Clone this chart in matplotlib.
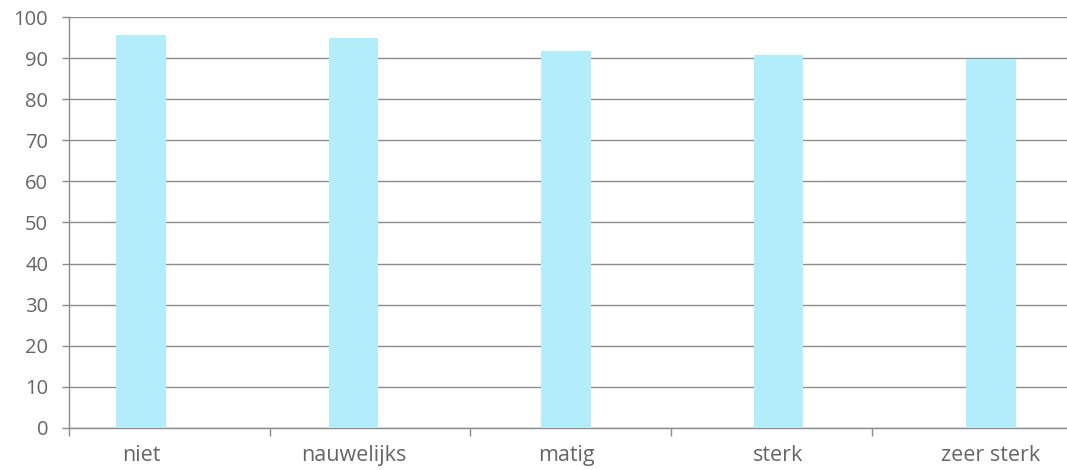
#!/usr/bin/env python3
"""Bar chart: share per category (niet .. zeer sterk)."""

import matplotlib

matplotlib.use("Agg")
import matplotlib.pyplot as plt
from matplotlib.ticker import FixedLocator

CATEGORIES = ["niet", "nauwelijks", "matig", "sterk", "zeer sterk"]
VALUES = [95.6, 94.9, 91.7, 90.8, 89.8]
Y_TICKS = [0, 10, 20, 30, 40, 50, 60, 70, 80, 90, 100]

BAR_COLOR = "#b3ecfa"
LINE_COLOR = "#8c8c8c"
TEXT_COLOR = "#666666"

plt.rcParams["font.family"] = ["Open Sans", "DejaVu Sans"]

fig = plt.figure(figsize=(10.67, 4.70), dpi=100)
ax = fig.add_axes([0.0647, 0.0894, 0.9353, 0.8744])

x = list(range(len(CATEGORIES)))
ax.bar(x, VALUES, width=0.235, color=BAR_COLOR, zorder=3)

# the original's category ticks don't line up exactly with the bars
x_left, x_right = -0.339, 4.358
tick_step = 0.9445
ax.set_xlim(x_left, x_right)
ax.set_ylim(0, 100)

ax.set_yticks(Y_TICKS)
ax.set_yticklabels([str(v) for v in Y_TICKS])
ax.yaxis.grid(True, color=LINE_COLOR, linewidth=1.0, zorder=1)

ax.xaxis.set_major_locator(FixedLocator([x_left + tick_step * k for k in range(len(CATEGORIES))]))
ax.xaxis.set_major_formatter(plt.NullFormatter())
ax.xaxis.set_minor_locator(FixedLocator(x))
ax.set_xticklabels(CATEGORIES, minor=True)

ax.tick_params(axis="y", length=5, width=1, color=LINE_COLOR, pad=10,
               labelsize=14.5, labelcolor=TEXT_COLOR)
ax.tick_params(axis="x", which="major", length=6, width=1, color=LINE_COLOR)
ax.tick_params(axis="x", which="minor", length=0, pad=12,
               labelsize=15.5, labelcolor=TEXT_COLOR)

for side in ("top", "right"):
    ax.spines[side].set_visible(False)
for side in ("left", "bottom"):
    ax.spines[side].set_color(LINE_COLOR)
    ax.spines[side].set_linewidth(1.0)

fig.savefig("out.png", dpi=100)
